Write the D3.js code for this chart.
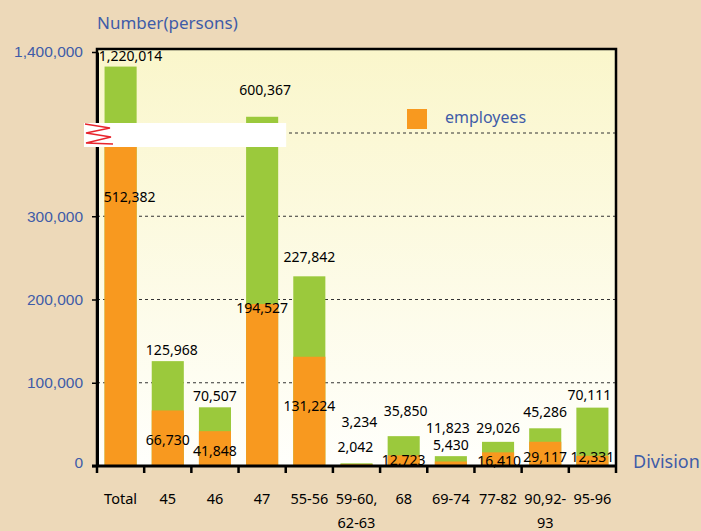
<!DOCTYPE html>
<html>
<head>
<meta charset="utf-8">
<script src="https://d3js.org/d3.v7.min.js"></script>
<style>
body { margin: 0; background: #edd9b9; }
svg { display: block; font-family: 'Noto Sans', sans-serif; }
</style>
</head>
<body>
<svg></svg>
<script>
var width = 701, height = 531;
var plotLeft = 97, plotRight = 616, plotTop = 49, plotBottom = 466;

var categories = ["Total", "45", "46", "47", "55-56", "59-60,\n62-63", "68", "69-74", "77-82", "90,92-\n93", "95-96"];
var totals = [1220014, 125968, 70507, 600367, 227842, 3234, 35850, 11823, 29026, 45286, 70111];
var employees = [512382, 66730, 41848, 194527, 131224, 2042, 12723, 5430, 16410, 29117, 12331];
var yTicks = [0, 100000, 200000, 300000, 1400000];
var gridValues = [100000, 200000, 300000, 400000];
var breakValue = 400000;

// label nudges (px from bar top), hand placed like the original
var totalDy = [-10, -11, -11, -27, -19, -41, -25, -28, -14, -16, -13];
var totalDx = [10, 4, 0, 3, 0, 3, 2, -3, 0, 0, -3];
var empDy = [73, 30, 20, 4, 49, -17, 5, -16, 9, 15, 1];
var empDx = [9, 0, 0, 0, 0, -1, 0, 0, 1, 0, 0];

var fmt = d3.format(",");
var blue = "#3f5ca8";

var svg = d3.select("svg").attr("width", width).attr("height", height);

var defs = svg.append("defs");
var grad = defs.append("linearGradient").attr("id", "bg")
  .attr("x1", 0).attr("y1", 0).attr("x2", 0).attr("y2", 1);
grad.append("stop").attr("offset", "0%").attr("stop-color", "#faf6cb");
grad.append("stop").attr("offset", "100%").attr("stop-color", "#fffffc");

var x = d3.scaleBand()
  .domain(categories)
  .range([plotLeft, plotRight])
  .paddingInner(0.32)
  .paddingOuter(0.16);

// broken axis: linear to 400,000, compressed above the break
var y = d3.scaleLinear()
  .domain([0, breakValue, 1400000])
  .range([plotBottom, 133, 52]);

// plot background
svg.append("rect")
  .attr("x", plotLeft).attr("y", plotTop)
  .attr("width", plotRight - plotLeft).attr("height", plotBottom - plotTop)
  .attr("fill", "url(#bg)");

// dashed gridlines
svg.selectAll("line.grid").data(gridValues).enter().append("line")
  .attr("class", "grid")
  .attr("x1", plotLeft).attr("x2", plotRight)
  .attr("y1", function(d) { return y(d); })
  .attr("y2", function(d) { return y(d); })
  .attr("stroke", "#333")
  .attr("stroke-width", 1)
  .attr("stroke-dasharray", "3,3");

// bars
var bars = svg.selectAll("g.bar").data(categories).enter().append("g").attr("class", "bar");

bars.append("rect")
  .attr("x", function(d) { return x(d); })
  .attr("width", x.bandwidth())
  .attr("y", function(d, i) { return y(totals[i]); })
  .attr("height", function(d, i) { return y(0) - y(totals[i]); })
  .attr("fill", "#9bc93c");

bars.append("rect")
  .attr("x", function(d) { return x(d); })
  .attr("width", x.bandwidth())
  .attr("y", function(d, i) { return y(employees[i]); })
  .attr("height", function(d, i) { return y(0) - y(employees[i]); })
  .attr("fill", "#f8991f");

// frame: left, top and right
svg.append("path")
  .attr("d", "M" + plotLeft + "," + plotBottom + "V" + plotTop + "H" + plotRight + "V" + plotBottom)
  .attr("fill", "none").attr("stroke", "#000").attr("stroke-width", 2.5);

// y axis
var yAxis = d3.axisLeft(y).tickValues(yTicks).tickFormat(fmt).tickSize(5).tickSizeOuter(0).tickPadding(9);
var gy = svg.append("g").attr("transform", "translate(" + plotLeft + ",0)").call(yAxis);
gy.select(".domain").attr("stroke-width", 3);
gy.selectAll(".tick line").attr("stroke-width", 1.5);
gy.selectAll(".tick text").attr("fill", blue).style("font-size", "15.5px")
  .attr("dy", function(d) { return d === 0 ? "0.1em" : "0.32em"; });

// x axis
svg.append("line")
  .attr("x1", plotLeft - 5).attr("x2", plotRight + 1)
  .attr("y1", plotBottom).attr("y2", plotBottom)
  .attr("stroke", "#000").attr("stroke-width", 3);

var half = x.step() * x.paddingInner() / 2;
var bounds = categories.map(function(d) { return x(d) - half; }).concat([plotRight]);
svg.selectAll("line.xtick").data(bounds).enter().append("line")
  .attr("class", "xtick")
  .attr("x1", function(d) { return d; }).attr("x2", function(d) { return d; })
  .attr("y1", plotBottom).attr("y2", plotBottom + 7)
  .attr("stroke", "#000").attr("stroke-width", 2.5);

var cat = svg.selectAll("text.cat").data(categories).enter().append("text")
  .attr("class", "cat")
  .attr("text-anchor", "middle")
  .attr("y", 504)
  .style("font-size", "14.5px")
  .attr("fill", "#000");
cat.selectAll("tspan").data(function(d) {
    var cx = x(d) + x.bandwidth() / 2;
    return d.split("\n").map(function(t) { return { t: t, cx: cx }; });
  }).enter().append("tspan")
  .attr("x", function(d) { return d.cx; })
  .attr("dy", function(d, i) { return i === 0 ? 0 : 24; })
  .text(function(d) { return d.t; });

// value labels
bars.append("text")
  .attr("text-anchor", "middle")
  .attr("x", function(d, i) { return x(d) + x.bandwidth() / 2 + totalDx[i]; })
  .attr("y", function(d, i) { return y(totals[i]) + totalDy[i]; })
  .attr("dy", "0.35em")
  .style("font-size", "14px")
  .attr("fill", "#000")
  .text(function(d, i) { return fmt(totals[i]); });

bars.append("text")
  .attr("text-anchor", "middle")
  .attr("x", function(d, i) { return x(d) + x.bandwidth() / 2 + empDx[i]; })
  .attr("y", function(d, i) { return y(employees[i]) + empDy[i]; })
  .attr("dy", "0.35em")
  .style("font-size", "14px")
  .attr("fill", "#000")
  .text(function(d, i) { return fmt(employees[i]); });

// axis break
var bx1 = x(categories[3]) + x.bandwidth() + 8;
svg.append("rect")
  .attr("x", plotLeft - 13).attr("y", y(breakValue) - 10)
  .attr("width", bx1 - (plotLeft - 13)).attr("height", 24)
  .attr("fill", "#fff");
svg.append("path")
  .attr("d", "M85,124 L110,128 L86,133 L111,137 L86,143 L113,144")
  .attr("fill", "none").attr("stroke", "#e8242c").attr("stroke-width", 1.3);

// titles
svg.append("text").attr("x", plotLeft).attr("y", 29)
  .style("font-size", "17px").attr("fill", blue).text("Number(persons)");
svg.append("text").attr("x", 633).attr("y", 468)
  .style("font-size", "18px").attr("fill", blue).text("Division");

// legend
svg.append("rect").attr("x", 407).attr("y", 109).attr("width", 20).attr("height", 20).attr("fill", "#f8991f");
svg.append("text").attr("x", 445).attr("y", 123)
  .style("font-size", "16px").attr("fill", blue).text("employees");
</script>
</body>
</html>
